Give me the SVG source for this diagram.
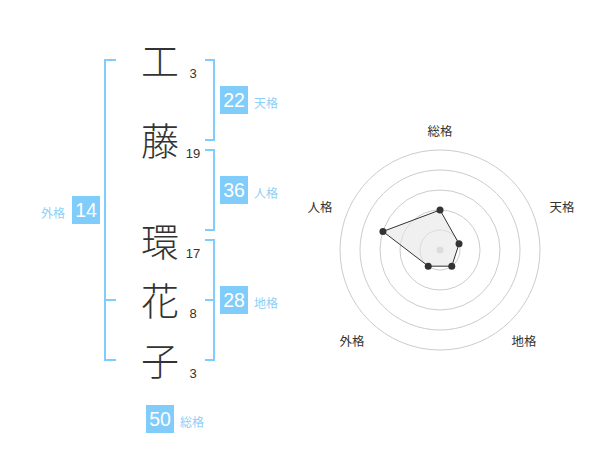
<svg xmlns="http://www.w3.org/2000/svg" width="600" height="470" viewBox="0 0 600 470">
<style>
.ch{font-family:"Noto Sans CJK JP","Noto Sans CJK SC",sans-serif;font-size:38px;font-weight:300;fill:#333;text-anchor:middle}
.st{font-family:"Liberation Sans",Arial,sans-serif;font-size:13px;fill:#333;text-anchor:middle}
.bx{fill:#80ccfb}
.bn{font-family:"Liberation Sans",Arial,sans-serif;font-size:19.5px;fill:#fff;text-anchor:middle}
.lb{font-family:"Noto Sans CJK JP","Noto Sans CJK SC",sans-serif;font-size:12px;fill:#8dcff7}
.br{fill:none;stroke:#80ccfb;stroke-width:2}
.rl{font-family:"Noto Sans CJK JP","Noto Sans CJK SC",sans-serif;font-size:12.5px;fill:#333;text-anchor:middle}
.ring{fill:none;stroke:#ccc;stroke-width:1}
.dot{fill:#333}
</style>
<rect width="600" height="470" fill="#fff"/>
<g id="connectors">
<path class="br" d="M205,60 H214 V140 H205"/>
<path class="br" d="M205,150 H214 V230 H205"/>
<path class="br" d="M205,240 H214 V360 H205 M205,300 H214"/>
<path class="br" d="M116,60 H105 V360 H116 M105,300 H116"/>
</g>
<g id="chars">
<text class="ch" x="160" y="75">工</text>
<text class="ch" x="160" y="155">藤</text>
<text class="ch" x="160" y="256">環</text>
<text class="ch" x="160" y="315">花</text>
<text class="ch" x="160" y="375">子</text>
<text class="st" x="193" y="78">3</text>
<text class="st" x="193" y="158">19</text>
<text class="st" x="193" y="258">17</text>
<text class="st" x="193" y="318">8</text>
<text class="st" x="193" y="378">3</text>
</g>
<g id="tenkaku">
<rect class="bx" x="220" y="86" width="28" height="28"/>
<text class="bn" x="234" y="107">22</text>
<text class="lb" x="254" y="108">天格</text>
</g>
<g id="jinkaku">
<rect class="bx" x="220" y="176" width="28" height="28"/>
<text class="bn" x="234" y="197">36</text>
<text class="lb" x="254" y="198">人格</text>
</g>
<g id="chikaku">
<rect class="bx" x="220" y="286" width="28" height="28"/>
<text class="bn" x="234" y="307">28</text>
<text class="lb" x="254" y="308">地格</text>
</g>
<g id="gaikaku">
<rect class="bx" x="72" y="196" width="28" height="28"/>
<text class="bn" x="86" y="217">14</text>
<text class="lb" x="41" y="218">外格</text>
</g>
<g id="soukaku">
<rect class="bx" x="146" y="405" width="28" height="28"/>
<text class="bn" x="160" y="426">50</text>
<text class="lb" x="180" y="427">総格</text>
</g>
<g id="radar">
<circle class="ring" cx="440" cy="250" r="20"/>
<circle class="ring" cx="440" cy="250" r="40"/>
<circle class="ring" cx="440" cy="250" r="60"/>
<circle class="ring" cx="440" cy="250" r="80"/>
<circle class="ring" cx="440" cy="250" r="100"/>
<circle cx="440" cy="250" r="3.5" fill="#ccc"/>
<polygon points="440,210 459.02,243.82 451.76,266.18 428.24,266.18 382.94,231.46" fill="#e6e6e6" fill-opacity="0.6" stroke="#333" stroke-width="1"/>
<circle class="dot" cx="440" cy="210" r="3.5"/>
<circle class="dot" cx="459.02" cy="243.82" r="3.5"/>
<circle class="dot" cx="451.76" cy="266.18" r="3.5"/>
<circle class="dot" cx="428.24" cy="266.18" r="3.5"/>
<circle class="dot" cx="382.94" cy="231.46" r="3.5"/>
<text class="rl" x="440" y="136">総格</text>
<text class="rl" x="562" y="212">天格</text>
<text class="rl" x="524" y="346">地格</text>
<text class="rl" x="352" y="346">外格</text>
<text class="rl" x="320" y="212">人格</text>
</g>
</svg>
